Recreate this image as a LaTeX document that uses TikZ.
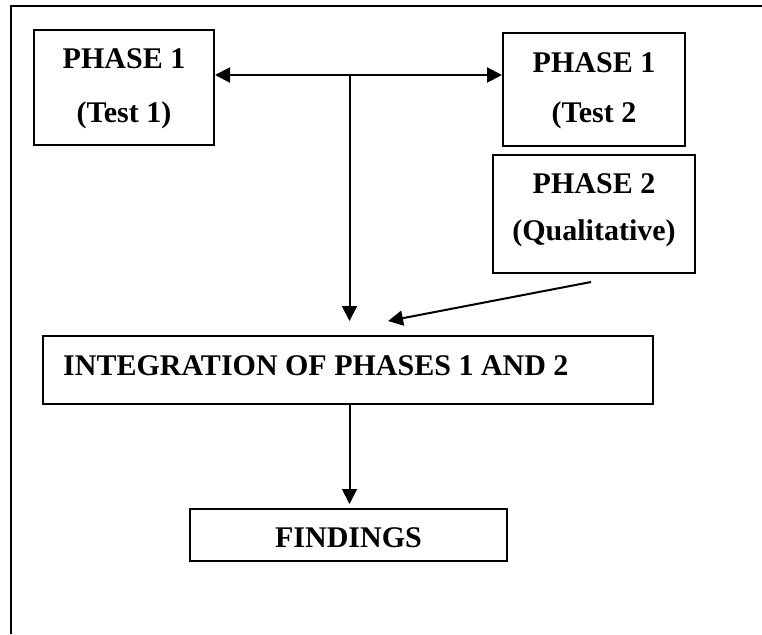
\documentclass[tikz,border=0pt]{standalone}
\usepackage{fontspec}
\setmainfont{Liberation Serif}
\usetikzlibrary{arrows.meta}

\begin{document}
\begin{tikzpicture}[x=1pt, y=-1pt,
  stagebox/.style={draw, line width=2pt, rectangle, inner sep=0pt},
  lbl/.style={anchor=base, inner sep=0pt, font=\fontsize{30}{36}\selectfont\bfseries},
  tip/.style={Triangle[length=15pt, width=15pt]},
  conn/.style={line width=2pt, -{Triangle[length=15pt, width=15pt]}},
  twoway/.style={line width=2pt, {Triangle[length=15pt, width=15pt]}-{Triangle[length=15pt, width=15pt]}}]

  \useasboundingbox (0,0) rectangle (762,634);

  % open frame: left and top edges only
  \draw[line width=1.6pt] (11,634) -- (11,6) -- (762,6);

  % boxes
  \node[stagebox, minimum width=180pt, minimum height=115pt] (t1) at (124,87.5) {};
  \node[stagebox, minimum width=182pt, minimum height=113pt] (t2) at (594,89.5) {};
  \node[stagebox, minimum width=202pt, minimum height=118pt] (q)  at (594,214) {};
  \node[stagebox, minimum width=610pt, minimum height=68pt] (integ) at (348,370) {};
  \node[stagebox, minimum width=317pt, minimum height=52pt] (find) at (348.5,535) {};

  % box texts
  \node[lbl] (t1a) at (124,68) {PHASE 1};
  \node[lbl] (t1b) at (124,122) {(Test 1)};
  \node[lbl] (t2a) at (594,72) {PHASE 1};
  \node[lbl] (t2b) at (594,122) {(Test 2};
  \node[lbl] (qa) at (594,193) {PHASE 2};
  \node[lbl] (qb) at (594,240) {(Qualitative)};
  \node[lbl, anchor=base west] (inta) at (63,375) {INTEGRATION OF PHASES 1 AND 2};
  \node[lbl] (finda) at (348.5,547) {FINDINGS};

  % connectors
  \coordinate (J) at (349.5,75);
  \coordinate (qf) at (591,282);
  \coordinate (it) at (388,321);

  \draw[twoway] (J -| t1.east) -- (J -| t2.west);
  \draw[conn, shorten >=14pt] (J) -- (J |- integ.north);
  \draw[conn] (qf) -- (it);
  \draw[conn, shorten >=4pt] (integ.south -| J) -- (find.north -| J);
\end{tikzpicture}
\end{document}
